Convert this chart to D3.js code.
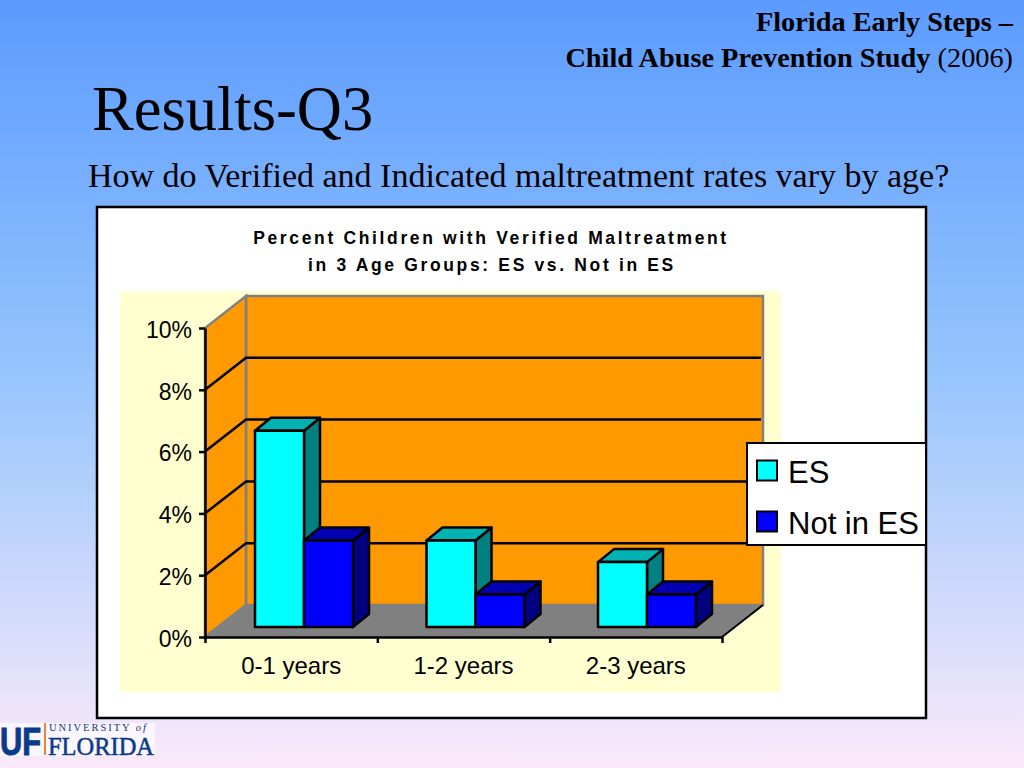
<!DOCTYPE html>
<html>
<head>
<meta charset="utf-8">
<title>Results-Q3</title>
<script src="https://cdn.jsdelivr.net/npm/d3@7"></script>
<style>
    html, body { margin: 0; padding: 0; overflow: hidden; }
    svg { display: block; }
    .slide { font-family: "Liberation Serif", serif; }
    .chart { font-family: "Liberation Sans", sans-serif; }
    .axis path, .axis line { stroke: #000; stroke-width: 2.5px; }
    .axis text { font-family: "Liberation Sans", sans-serif; font-size: 23px; fill: #000; }
    .cats text { font-size: 24px; }
</style>
</head>
<body>
<script>
var categories = ["0-1 years", "1-2 years", "2-3 years"];
var seriesNames = ["ES", "Not in ES"];
var esValues = [6.35, 2.8, 2.1];
var notInEsValues = [2.8, 1.05, 1.05];
var yTicks = [0, 2, 4, 6, 8, 10];
var gridTicks = [2, 4, 6, 8];

var width = 1024;
var height = 768;

var svg = d3.select("body").append("svg")
    .attr("width", width)
    .attr("height", height);

// slide background
var grad = svg.append("defs").append("linearGradient")
    .attr("id", "bg")
    .attr("x1", 0).attr("y1", 0).attr("x2", 0).attr("y2", 1);
grad.append("stop").attr("offset", "0%").attr("stop-color", "#5b9bff");
grad.append("stop").attr("offset", "50%").attr("stop-color", "#98c6fd");
grad.append("stop").attr("offset", "100%").attr("stop-color", "#fbe9fa");

svg.append("rect").attr("width", width).attr("height", height).attr("fill", "url(#bg)");

// slide headings
var head = svg.append("g").attr("class", "slide");
head.append("text").attr("x", 1013).attr("y", 31).attr("text-anchor", "end")
    .attr("font-size", 28.3).attr("font-weight", "bold").text("Florida Early Steps –");
var study = head.append("text").attr("x", 1013).attr("y", 67).attr("text-anchor", "end")
    .attr("font-size", 28.3);
study.append("tspan").attr("font-weight", "bold").text("Child Abuse Prevention Study");
study.append("tspan").text(" (2006)");
head.append("text").attr("x", 92).attr("y", 130).attr("font-size", 62.5).text("Results-Q3");
head.append("text").attr("x", 88).attr("y", 187).attr("font-size", 34)
    .text("How do Verified and Indicated maltreatment rates vary by age?");

// chart panel
svg.append("rect").attr("x", 97).attr("y", 207).attr("width", 829).attr("height", 511)
    .attr("fill", "#fff").attr("stroke", "#000").attr("stroke-width", 2.5);
svg.append("rect").attr("x", 120).attr("y", 291).attr("width", 661).attr("height", 401)
    .attr("fill", "#ffffd0");

var chart = svg.append("g").attr("class", "chart");

chart.append("text").attr("x", 491).attr("y", 244).attr("text-anchor", "middle")
    .attr("font-size", 17.5).attr("font-weight", "bold").attr("letter-spacing", 2.65)
    .text("Percent Children with Verified Maltreatment");
chart.append("text").attr("x", 492).attr("y", 271).attr("text-anchor", "middle")
    .attr("font-size", 17.5).attr("font-weight", "bold").attr("letter-spacing", 2.65)
    .text("in 3 Age Groups: ES vs. Not in ES");

// scales, front plane of the 3d box
var left = 205, right = 722, bottom = 637, top_ = 328;
var depthX = 41, depthY = 32; // offset of back wall
var x = d3.scaleBand().domain(categories).range([left, right]);
var y = d3.scaleLinear().domain([0, 10]).range([bottom, top_]);
var edges = d3.scaleLinear().domain([0, categories.length]).range([left, right]);
var barCenter = d3.scalePoint().domain(categories).range([304, 647]);

function pts(list) {
    return list.map(function(p) { return p[0] + "," + p[1]; }).join(" ");
}

// back wall
chart.append("polygon")
    .attr("points", pts([[left + depthX, y(0) - depthY], [right + depthX, y(0) - depthY],
                         [right + depthX, y(10) - depthY], [left + depthX, y(10) - depthY]]))
    .attr("fill", "#ff9900").attr("stroke", "#808080").attr("stroke-width", 2.5);
// side wall
chart.append("polygon")
    .attr("points", pts([[left, y(0)], [left + depthX, y(0) - depthY],
                         [left + depthX, y(10) - depthY], [left, y(10)]]))
    .attr("fill", "#ff9900").attr("stroke", "#808080").attr("stroke-width", 2.5);
// floor
chart.append("polygon")
    .attr("points", pts([[left, y(0)], [right, y(0)],
                         [right + depthX, y(0) - depthY], [left + depthX, y(0) - depthY]]))
    .attr("fill", "#808080").attr("stroke", "#808080").attr("stroke-width", 1);
chart.append("line")
    .attr("x1", right).attr("y1", y(0)).attr("x2", right + depthX).attr("y2", y(0) - depthY)
    .attr("stroke", "#000").attr("stroke-width", 2);

// grid lines on both walls
gridTicks.forEach(function(t) {
    chart.append("polyline")
        .attr("points", pts([[left, y(t)], [left + depthX, y(t) - depthY], [right + depthX - 2, y(t) - depthY]]))
        .attr("fill", "none").attr("stroke", "#000").attr("stroke-width", 2.5);
});

// bars
var barW = 49;
var barOffY = 10;           // front of bars sits a bit behind the axis
var barDX = 16, barDY = 13; // depth of one bar

var seriesStyle = [
    { values: esValues, front: "#00ffff", top: "#00b2b2", side: "#008080" },
    { values: notInEsValues, front: "#0000ff", top: "#0000b2", side: "#000080" }
];

categories.forEach(function(c, i) {
    var center = barCenter(c);
    seriesStyle.forEach(function(s, j) {
        var x0 = center + (j - 1) * barW;
        var x1 = x0 + barW;
        var yb = y(0) - barOffY;
        var yt = y(s.values[i]) - barOffY;
        var g = chart.append("g")
            .attr("stroke", "#000").attr("stroke-width", 2.5).attr("stroke-linejoin", "round");
        g.append("polygon")
            .attr("points", pts([[x1, yb], [x1 + barDX, yb - barDY], [x1 + barDX, yt - barDY], [x1, yt]]))
            .attr("fill", s.side);
        g.append("polygon")
            .attr("points", pts([[x0, yt], [x1, yt], [x1 + barDX, yt - barDY], [x0 + barDX, yt - barDY]]))
            .attr("fill", s.top);
        g.append("rect")
            .attr("x", x0).attr("y", yt).attr("width", barW).attr("height", yb - yt)
            .attr("fill", s.front);
    });
});

// axes
chart.append("g")
    .attr("class", "axis")
    .attr("transform", "translate(" + left + ",0)")
    .call(d3.axisLeft(y).tickValues(yTicks).tickSize(6).tickSizeOuter(0).tickPadding(7)
        .tickFormat(function(d) { return d + "%"; }))
    .selectAll("text").attr("dy", "0.4em");

chart.append("g")
    .attr("class", "axis")
    .attr("transform", "translate(0," + bottom + ")")
    .call(d3.axisBottom(edges).ticks(categories.length).tickSize(6).tickSizeOuter(0)
        .tickFormat(""));

var catAxis = chart.append("g")
    .attr("class", "axis cats")
    .attr("transform", "translate(0," + bottom + ")")
    .call(d3.axisBottom(x).tickSize(0).tickPadding(20));
catAxis.select(".domain").remove();

// legend
var legend = svg.append("g").attr("class", "chart");
legend.append("rect").attr("x", 747).attr("y", 443).attr("width", 179).attr("height", 102)
    .attr("fill", "#fff").attr("stroke", "#000").attr("stroke-width", 2);
seriesNames.forEach(function(name, i) {
    legend.append("rect")
        .attr("x", 757).attr("y", 460.5 + i * 51).attr("width", 20).attr("height", 20)
        .attr("fill", seriesStyle[i].front).attr("stroke", "#000").attr("stroke-width", 2);
    legend.append("text")
        .attr("x", 788).attr("y", 483 + i * 51)
        .attr("font-size", 31).attr("fill", "#000").text(name);
});

// university logo
var logo = svg.append("g");
logo.append("rect").attr("x", 0).attr("y", 723).attr("width", 155).attr("height", 33).attr("fill", "#fbf5fd");
logo.append("text").attr("x", 0).attr("y", 755).attr("font-family", "Liberation Sans")
    .attr("font-weight", "bold").attr("font-size", 38).attr("textLength", 41).attr("lengthAdjust", "spacingAndGlyphs")
    .attr("fill", "#0a3a8c").attr("stroke", "#0a3a8c").attr("stroke-width", 1).text("UF");
logo.append("rect").attr("x", 44).attr("y", 723).attr("width", 2).attr("height", 32).attr("fill", "#e8853a");
var uni = logo.append("text").attr("x", 49).attr("y", 730.5).attr("font-family", "Liberation Serif")
    .attr("font-size", 10.5).attr("textLength", 97).attr("fill", "#0a3a8c");
uni.append("tspan").text("UNIVERSITY ");
uni.append("tspan").attr("font-style", "italic").text("of");
logo.append("text").attr("x", 48).attr("y", 755).attr("font-family", "Liberation Serif")
    .attr("font-size", 25).attr("textLength", 106).attr("lengthAdjust", "spacingAndGlyphs")
    .attr("fill", "#0a3a8c").attr("stroke", "#0a3a8c").attr("stroke-width", 0.5).text("FLORIDA");
</script>
</body>
</html>
